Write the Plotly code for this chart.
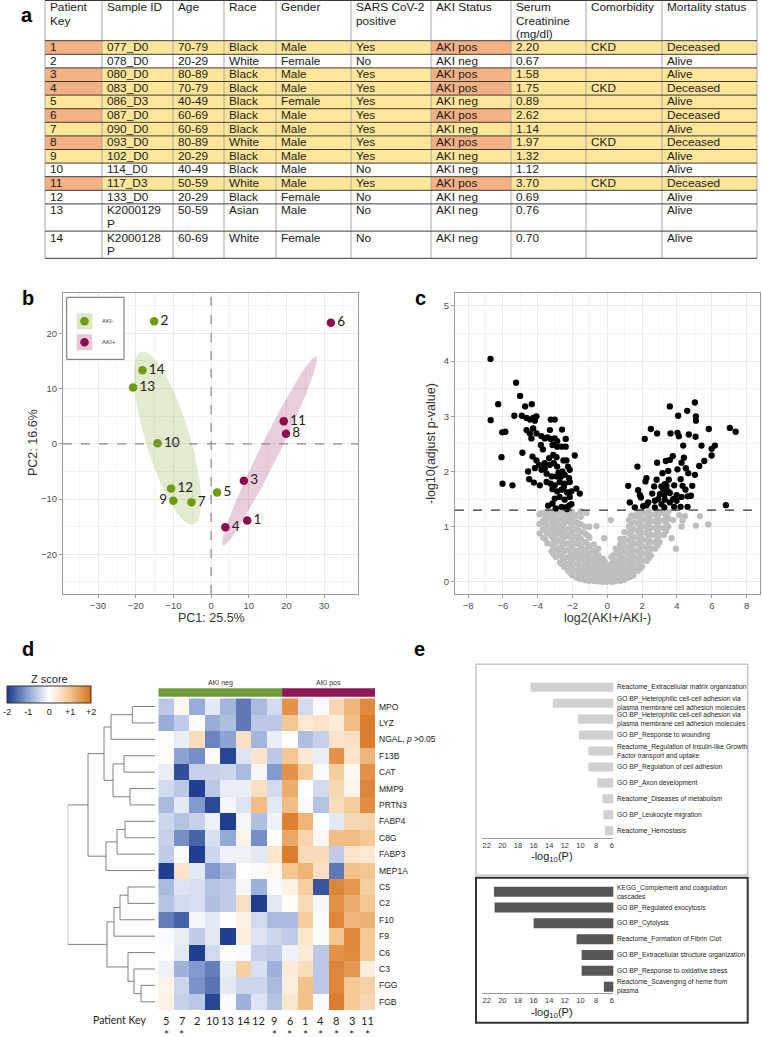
import numpy as np
import plotly.graph_objects as go

W, H = 762, 1037


def PX(x):
    return x / W


def PY(y):
    return 1 - y / H


SANS = "Liberation Sans"
HUM = "Lato"

# ---------------- Panel a : table data ----------------
tbl_header = ["Patient<br>Key", "Sample ID", "Age", "Race", "Gender", "SARS CoV-2<br>positive",
              "AKI Status", "Serum<br>Creatinine<br>(mg/dl)", "Comorbidity", "Mortality status"]
patient_key = [str(i) for i in range(1, 15)]
sample_id = ["077_D0", "078_D0", "080_D0", "083_D0", "086_D3", "087_D0", "090_D0", "093_D0",
             "102_D0", "114_D0", "117_D3", "133_D0", "K2000129<br>P", "K2000128<br>P"]
age = ["70-79", "20-29", "80-89", "70-79", "40-49", "60-69", "60-69", "80-89", "20-29", "40-49",
       "50-59", "20-29", "50-59", "60-69"]
race = ["Black", "White", "Black", "Black", "Black", "Black", "Black", "White", "Black", "Black",
        "White", "Black", "Asian", "White"]
gender = ["Male", "Female", "Male", "Male", "Female", "Male", "Male", "Male", "Male", "Male",
          "Male", "Female", "Male", "Female"]
sars = ["Yes", "No", "Yes", "Yes", "Yes", "Yes", "Yes", "Yes", "Yes", "No", "Yes", "No", "No", "No"]
aki_status = ["AKI pos", "AKI neg", "AKI pos", "AKI pos", "AKI neg", "AKI pos", "AKI neg", "AKI pos",
              "AKI neg", "AKI neg", "AKI pos", "AKI neg", "AKI neg", "AKI neg"]
creatinine = ["2.20", "0.67", "1.58", "1.75", "0.89", "2.62", "1.14", "1.97", "1.32", "1.12",
              "3.70", "0.69", "0.76", "0.70"]
comorbidity = ["CKD", "", "", "CKD", "", "", "", "CKD", "", "", "CKD", "", "", ""]
mortality = ["Deceased", "Alive", "Alive", "Deceased", "Alive", "Deceased", "Alive", "Deceased",
             "Alive", "Alive", "Deceased", "Alive", "Alive", "Alive"]

# ---------------- Panel b : PCA ----------------
pca_key = [str(i) for i in range(1, 15)]
pc1 = [9.6, -15.1, 8.7, 3.8, 1.6, 31.8, -5.2, 19.9, -10.0, -14.2, 19.3, -10.6, -20.7, -18.2]
pc2 = [-13.9, 22.2, -6.7, -15.1, -8.8, 21.9, -10.6, 1.8, -10.3, 0.1, 4.1, -8.1, 10.2, 13.3]

# ---------------- Panel c : volcano ----------------
sig_left_x = [-6.71, -5.24, -5.01, -6.27, -4.72, -4.34, -6.70, -5.34, -4.91, -4.64, -4.45, -4.26, -4.07,
              -4.16, -3.25, -3.02, -6.04, -5.86, -4.64, -4.45, -4.26, -4.07, -4.36, -3.78, -3.59, -3.30,
              -2.60, -3.44, -3.25, -3.02, -2.88, -2.39, -3.82, -3.15, -2.88, -2.63, -2.39, -6.08, -4.88,
              -4.30, -4.07, -4.16, -3.92, -3.34, -2.92, -2.35, -1.87, -3.78, -3.59, -3.30, -3.07, -2.88,
              -2.58, -2.26, -2.16, -3.49, -3.20, -2.92, -2.68, -2.45, -2.20, -4.49, -4.22, -3.88, -3.49,
              -3.25, -3.02, -2.74, -2.45, -2.16, -6.02, -5.45, -1.78, -1.58, -3.15, -2.88, -2.63, -2.31,
              -2.06, -3.02, -2.74, -2.45, -2.16, -3.15, -3.40, -2.96, -2.63, -2.39, -2.20, -2.06, -2.31,
              -4.55, -3.70, -3.10, -2.52, -2.80, -3.60, -2.50]
sig_left_y = [4.04, 3.61, 3.37, 3.22, 3.18, 3.22, 2.93, 3.01, 3.01, 2.97, 2.94, 2.97, 3.00,
              2.92, 2.94, 2.94, 2.71, 2.72, 2.75, 2.69, 2.78, 2.69, 2.60, 2.64, 2.60, 2.75,
              2.76, 2.62, 2.59, 2.60, 2.55, 2.59, 2.48, 2.48, 2.45, 2.45, 2.45, 2.26, 2.34,
              2.27, 2.20, 2.06, 2.12, 2.24, 2.26, 2.20, 2.29, 2.03, 2.06, 2.12, 2.15, 2.09,
              2.00, 2.09, 2.03, 1.96, 1.91, 1.91, 1.90, 1.94, 1.88, 1.86, 1.80, 1.75, 1.81,
              1.78, 1.75, 1.81, 1.78, 1.81, 1.78, 1.75, 1.69, 1.60, 1.68, 1.64, 1.67, 1.62,
              1.64, 1.51, 1.54, 1.49, 1.54, 1.42, 1.38, 1.33, 1.36, 1.35, 1.38, 1.41, 1.32,
              2.00, 2.40, 2.30, 2.20, 1.98, 2.15, 1.72]
sig_right_x = [5.03, 3.59, 4.59, 4.07, 5.09, 5.09, 2.50, 2.86, 3.63, 4.03, 4.11, 4.68, 5.07, 5.83,
               7.04, 7.37, 2.15, 4.36, 5.41, 6.18, 5.99, 5.99, 4.40, 3.76, 3.59, 3.36, 2.86, 5.57,
               5.28, 4.26, 1.73, 4.03, 4.51, 3.50, 3.17, 4.65, 5.03, 2.25, 2.19, 2.83, 3.53, 3.30,
               4.21, 1.20, 2.69, 3.11, 3.40, 3.84, 4.32, 4.88, 1.77, 3.21, 3.46, 4.49, 1.87, 2.58,
               3.02, 3.27, 3.59, 3.98, 4.26, 4.61, 4.80, 1.93, 2.92, 3.30, 3.78, 1.29, 2.35, 2.73,
               3.11, 3.59, 3.98, 1.58, 2.06, 2.25, 2.73, 3.27, 3.84, 4.21, 4.61, 6.81]
sig_right_y = [3.25, 3.18, 3.10, 3.01, 3.00, 2.92, 2.77, 2.69, 2.69, 2.70, 2.64, 2.67, 2.63, 2.77,
               2.79, 2.72, 2.59, 2.47, 2.47, 2.47, 2.41, 2.29, 2.25, 2.28, 2.21, 2.19, 2.16, 2.19,
               2.10, 2.16, 2.09, 2.04, 2.06, 2.01, 1.97, 1.97, 1.94, 1.88, 1.82, 1.85, 1.85, 1.77,
               1.86, 1.74, 1.73, 1.73, 1.74, 1.75, 1.74, 1.74, 1.66, 1.68, 1.65, 1.67, 1.57, 1.60,
               1.59, 1.57, 1.61, 1.57, 1.54, 1.55, 1.56, 1.53, 1.50, 1.49, 1.50, 1.44, 1.44, 1.47,
               1.41, 1.44, 1.47, 1.35, 1.37, 1.39, 1.35, 1.35, 1.36, 1.36, 1.36, 1.39]
# non-significant genes, read column by column (x: list of y)
ns_columns = [
    (-3.90, [0.88, 1.05, 1.22]),
    (-3.70, [0.80, 0.95, 1.10, 1.25]),
    (-3.58, [0.78, 0.93, 1.06, 1.20]),
    (-3.45, [0.70, 0.88, 1.00, 1.15, 1.27]),
    (-3.20, [0.55, 0.68, 0.82, 0.95, 1.08, 1.20]),
    (-3.08, [0.50, 0.63, 0.77, 0.90, 1.03, 1.16, 1.28]),
    (-2.95, [0.45, 0.58, 0.72, 0.85, 0.98, 1.10, 1.24]),
    (-2.72, [0.35, 0.50, 0.62, 0.76, 0.90, 1.02, 1.15, 1.27]),
    (-2.60, [0.32, 0.45, 0.58, 0.72, 0.86, 0.99, 1.12, 1.25]),
    (-2.48, [0.27, 0.40, 0.55, 0.68, 0.80, 0.93, 1.06, 1.18, 1.28]),
    (-2.25, [0.20, 0.32, 0.45, 0.58, 0.70, 0.84, 0.96, 1.10, 1.22]),
    (-2.13, [0.16, 0.30, 0.43, 0.56, 0.69, 0.82, 0.94, 1.08, 1.20]),
    (-2.02, [0.12, 0.25, 0.38, 0.50, 0.63, 0.76, 0.88, 1.02, 1.15, 1.27]),
    (-1.78, [0.08, 0.20, 0.32, 0.45, 0.56, 0.70, 0.82, 0.95, 1.08, 1.20]),
    (-1.65, [0.07, 0.18, 0.30, 0.42, 0.55, 0.68, 0.80, 0.93, 1.06, 1.22]),
    (-1.52, [0.05, 0.15, 0.27, 0.40, 0.52, 0.64, 0.78, 0.90, 1.04, 1.18, 1.28]),
    (-1.28, [0.03, 0.12, 0.22, 0.34, 0.46, 0.58, 0.72, 0.88, 1.00]),
    (-1.15, [0.03, 0.11, 0.20, 0.31, 0.43, 0.55, 0.68, 0.84]),
    (-1.03, [0.02, 0.10, 0.18, 0.28, 0.40, 0.52, 0.64, 0.80, 1.00]),
    (-0.78, [0.02, 0.08, 0.15, 0.24, 0.34, 0.45, 0.56, 0.68]),
    (-0.65, [0.02, 0.07, 0.13, 0.21, 0.30, 0.40, 0.52]),
    (-0.52, [0.01, 0.06, 0.12, 0.20, 0.28, 0.38, 0.48, 0.60]),
    (-0.27, [0.00, 0.05, 0.10, 0.16, 0.24, 0.32, 0.42]),
    (-0.15, [0.01, 0.05, 0.11, 0.18, 0.26, 0.36]),
    (-0.02, [0.00, 0.04, 0.09, 0.14, 0.20, 0.28]),
    (0.23, [0.00, 0.05, 0.10, 0.16, 0.24, 0.33, 0.45]),
    (0.36, [0.01, 0.06, 0.12, 0.19, 0.27, 0.36, 0.48]),
    (0.48, [0.01, 0.06, 0.12, 0.20, 0.28, 0.38, 0.50, 0.60]),
    (0.74, [0.02, 0.08, 0.15, 0.24, 0.34, 0.45, 0.56, 0.68, 0.78]),
    (0.86, [0.03, 0.10, 0.18, 0.27, 0.38, 0.50, 0.62, 0.74]),
    (0.98, [0.04, 0.12, 0.20, 0.30, 0.42, 0.54, 0.66, 0.78, 0.90]),
    (1.24, [0.08, 0.16, 0.26, 0.38, 0.50, 0.62, 0.75, 0.88, 1.00, 1.12]),
    (1.37, [0.10, 0.19, 0.30, 0.42, 0.54, 0.66, 0.80, 0.93, 1.06, 1.20]),
    (1.50, [0.12, 0.22, 0.34, 0.46, 0.58, 0.70, 0.82, 0.95, 1.08, 1.20]),
    (1.75, [0.20, 0.30, 0.42, 0.55, 0.68, 0.80, 0.92, 1.05, 1.18, 1.28]),
    (1.88, [0.24, 0.36, 0.48, 0.60, 0.72, 0.85, 0.97, 1.10, 1.22]),
    (2.00, [0.28, 0.40, 0.52, 0.65, 0.78, 0.90, 1.02, 1.15, 1.27]),
    (2.25, [0.38, 0.50, 0.62, 0.75, 0.88, 1.00, 1.12, 1.24]),
    (2.38, [0.43, 0.56, 0.68, 0.80, 0.93, 1.05, 1.18, 1.28]),
    (2.50, [0.48, 0.60, 0.72, 0.85, 0.98, 1.10, 1.22]),
    (2.75, [0.60, 0.72, 0.85, 0.98, 1.10, 1.22]),
    (2.88, [0.66, 0.78, 0.91, 1.04, 1.17, 1.28]),
    (3.00, [0.72, 0.85, 0.98, 1.10, 1.24]),
    (3.25, [0.85, 0.98, 1.12, 1.25]),
    (3.38, [0.92, 1.06, 1.20]),
    (3.50, [1.00, 1.15, 1.27]),
]
ns_extra_x = [-0.62, -0.18, 0.20, 3.69, 3.94, 4.13, 4.26, 4.32, 4.45, 5.09, 5.32, 5.80, 3.78, -3.85, -1.20]
ns_extra_y = [1.01, 0.79, 1.12, 0.79, 0.60, 1.21, 1.00, 1.11, 1.19, 1.02, 1.19, 1.04, 1.12, 1.24, 1.25]
p_threshold = 1.30

# ---------------- Panel d : heatmap ----------------
genes = ["MPO", "LYZ", "NGAL, <i>p</i> >0.05", "F13B", "CAT", "MMP9", "PRTN3", "FABP4", "C8G", "FABP3",
         "MEP1A", "C5", "C2", "F10", "F9", "C6", "C3", "FGG", "FGB"]
hm_patients = ["5", "7", "2", "10", "13", "14", "12", "9", "6", "1", "4", "8", "3", "11"]
hm_group = ["AKI neg"] * 8 + ["AKI pos"] * 6
hm_star = [True, True, False, False, False, False, False, True, True, True, True, True, True, True]
zscore = [
    [-0.60, 0.15, -0.90, -0.25, -0.80, -1.40, -0.75, -0.40, 1.60, -0.40, -0.05, 0.70, 1.20, 1.70],
    [-0.90, -0.55, 0.05, -0.90, -0.70, -1.40, -0.60, -0.60, 1.00, 0.40, 0.50, 0.35, 1.10, 1.85],
    [0.05, -0.20, 0.60, -1.30, -1.00, 0.55, -0.80, -0.20, 0.00, -0.70, -0.50, 0.50, 0.55, 1.85],
    [0.05, -1.00, -1.20, 0.10, -1.90, -0.30, 0.50, -0.60, 1.00, 0.40, -0.20, 1.60, 0.50, 1.20],
    [-0.20, -1.80, -0.50, -0.50, -0.45, -0.75, -0.10, -1.10, 1.60, 0.90, -0.05, 0.90, 0.15, 1.60],
    [-0.40, -0.60, -1.95, -0.60, -0.20, -0.20, 0.55, -0.40, 1.30, 0.00, -0.40, 0.70, 0.20, 1.75],
    [-0.75, -0.25, -1.10, -1.85, -0.10, -0.30, 1.10, -0.25, 1.10, -0.05, -0.65, 0.60, 0.90, 1.65],
    [-0.45, -0.65, -0.50, -0.15, -1.95, -0.10, -0.70, -0.15, 1.80, 1.20, 0.00, -0.25, 0.70, 0.75],
    [-0.50, -1.20, -1.60, -0.35, -0.95, 0.20, -1.20, 0.02, 1.35, 0.75, 0.15, 1.10, 1.10, 0.95],
    [-0.55, -0.05, -1.95, -0.45, -0.15, -0.15, -0.25, 0.45, 1.85, 0.65, 0.65, -0.55, 0.50, 0.40],
    [-1.95, 0.50, -0.25, -1.10, -0.80, 0.02, 0.10, 0.15, 1.00, 1.20, 0.55, -1.40, 1.05, 1.00],
    [-0.75, -0.30, -0.35, -0.65, -0.55, -0.10, -0.85, -0.05, 0.25, 0.85, -1.75, 1.75, 1.55, 0.85],
    [-0.65, -0.40, -0.35, -0.70, -0.55, 0.55, -1.95, -0.25, 0.05, 0.65, -0.10, 1.60, 1.30, 1.00],
    [-1.35, -1.60, -0.10, -0.25, 0.02, 0.25, -0.40, -0.75, -0.75, 0.90, -0.05, 1.75, 1.20, 1.25],
    [-0.05, -0.20, -0.55, -0.25, -1.95, 0.30, -0.30, -0.45, -0.55, 0.45, 0.05, 1.00, 1.75, 0.95],
    [0.03, -0.25, -1.95, -0.40, 0.02, -0.05, -0.50, -0.55, -0.15, 0.35, -0.60, 1.60, 1.70, 0.95],
    [-0.15, -0.85, -1.10, -1.35, -0.20, 0.85, -0.35, -0.85, 0.35, 0.60, -0.60, 1.75, 1.55, 0.30],
    [0.20, -0.45, -1.15, -1.45, -0.25, -0.45, -0.45, -0.75, 0.30, 1.05, -0.60, 1.75, 0.95, 0.80],
    [0.25, -0.50, -0.60, -1.90, -0.05, -0.85, -0.30, -0.65, 0.45, 1.05, -0.05, 1.85, 0.95, 0.70],
]
# row dendrogram: (child a, child b, merge distance); leaves 0..18, merged nodes 19..
dendro_merges = [(0, 1, 22.7), (19, 2, 44), (3, 4, 31), (5, 6, 25), (21, 22, 42), (20, 23, 51),
                 (7, 8, 30), (25, 9, 38), (26, 10, 49), (24, 27, 67), (11, 12, 27), (29, 13, 35),
                 (30, 14, 41), (17, 18, 14), (16, 32, 21), (15, 33, 27), (31, 34, 48), (28, 35, 87.3)]

# ---------------- Panel e : enrichment ----------------
up_terms = ["Reactome_Extracellular matrix organization",
            "GO BP_Heterophilic cell-cell adhesion via<br>plasma membrane cell adhesion molecules",
            "GO BP_Heterophilic cell-cell adhesion via<br>plasma membrane cell adhesion molecules",
            "GO BP_Response to wounding",
            "Reactome_Regulation of Insulin-like Growth<br>Factor transport and uptake",
            "GO BP_Regulation of cell adhesion",
            "GO BP_Axon development",
            "Reactome_Diseases of metabolism",
            "GO BP_Leukocyte migration",
            "Reactome_Hemostasis"]
up_logp = [16.4, 13.55, 10.35, 10.2, 9.0, 9.0, 7.85, 7.2, 7.07, 6.86]
down_terms = ["KEGG_Complement and coagulation<br>cascades",
              "GO BP_Regulated exocytosis",
              "GO BP_Cytolysis",
              "Reactome_Formation of Fibrin Clot",
              "GO BP_Extracellular structure organization",
              "GO BP_Response to oxidative stress",
              "Reactome_Scavenging of heme from<br>plasma"]
down_logp = [21.07, 21.0, 16.0, 10.5, 9.85, 9.85, 7.0]

# =====================================================================
fig = go.Figure()
shapes = []
annotations = []


def label(x, y, text, size, color="#222", family=SANS, xanchor="center", yanchor="middle",
          bold=False, textangle=0, align="center"):
    annotations.append(dict(x=PX(x), y=PY(y), xref="paper", yref="paper", text=text,
                            showarrow=False, xanchor=xanchor, yanchor=yanchor, textangle=textangle,
                            align=align, borderpad=0,
                            font=dict(size=size, color=color, family=family,
                                      weight="bold" if bold else "normal")))


# ---------------- table ----------------
YEL, SAL = "#FFE699", "#F4B183"
columns = [patient_key, sample_id, age, race, gender, sars, aki_status, creatinine, comorbidity, mortality]
col_w = [57, 71, 51, 52, 75, 80, 80, 75, 76, 95]
tl, tt, lh = 45, 0.5, 13.6
col_x = [tl]
for w in col_w:
    col_x.append(col_x[-1] + w)


def nlines(s):
    return s.count("<br>") + 1


head_h = max(nlines(h) for h in tbl_header) * lh - 0.6
row_h = [max(nlines(c[r]) for c in columns) * lh for r in range(len(patient_key))]
row_y = [tt, tt + head_h]
for h in row_h:
    row_y.append(row_y[-1] + h)

for r in range(len(patient_key)):
    for c in range(len(columns)):
        fill = None
        if sars[r] == "Yes":
            fill = YEL
        if c in (0, 6) and aki_status[r] == "AKI pos":
            fill = SAL
        if fill:
            shapes.append(dict(type="rect", xref="paper", yref="paper", x0=PX(col_x[c]), x1=PX(col_x[c + 1]),
                               y0=PY(row_y[r + 1]), y1=PY(row_y[r + 2]), fillcolor=fill,
                               line=dict(width=0), layer="below"))
for xv in col_x:
    shapes.append(dict(type="line", xref="paper", yref="paper", x0=PX(xv), x1=PX(xv),
                       y0=PY(row_y[0]), y1=PY(row_y[-1]), line=dict(color="#A6A6A6", width=1)))
for yv in row_y:
    shapes.append(dict(type="line", xref="paper", yref="paper", x0=PX(col_x[0]), x1=PX(col_x[-1]),
                       y0=PY(yv), y1=PY(yv), line=dict(color="#3A3A3A", width=1)))


def cell_text(text, c, top):
    for i, part in enumerate(text.split("<br>")):
        if part:
            label(col_x[c] + 4, top + 6.4 + i * lh, part, 11.8, "#1A1A1A", SANS, xanchor="left")


for c, h in enumerate(tbl_header):
    cell_text(h, c, row_y[0])
for r in range(len(patient_key)):
    for c in range(len(columns)):
        cell_text(columns[c][r], c, row_y[r + 1])

# ---------------- panel b : PCA ----------------
GREEN, PURPLE = "#6E9B12", "#8B0A50"
pos_idx = [i for i in range(len(pca_key)) if aki_status[i] == "AKI pos"]
neg_idx = [i for i in range(len(pca_key)) if aki_status[i] == "AKI neg"]


def conf_ellipse(xs, ys, k=1.24, n=120):
    xs, ys = np.asarray(xs), np.asarray(ys)
    vals, vecs = np.linalg.eigh(np.cov(xs, ys))
    t = np.linspace(0, 2 * np.pi, n)
    circ = np.vstack([np.cos(t), np.sin(t)])
    pts = vecs @ (np.sqrt(vals)[:, None] * circ) * k
    return xs.mean() + pts[0], ys.mean() + pts[1]


for idx, fillc in [(neg_idx, "rgba(110,155,18,0.20)"), (pos_idx, "rgba(139,10,80,0.20)")]:
    ex, ey = conf_ellipse([pc1[i] for i in idx], [pc2[i] for i in idx])
    fig.add_trace(go.Scatter(x=ex, y=ey, mode="lines", fill="toself", fillcolor=fillc,
                             line=dict(width=0), hoverinfo="skip", showlegend=False, xaxis="x", yaxis="y"))
for idx, col in [(neg_idx, GREEN), (pos_idx, PURPLE)]:
    fig.add_trace(go.Scatter(
        x=[pc1[i] for i in idx], y=[pc2[i] for i in idx], mode="markers+text",
        text=[pca_key[i] for i in idx],
        textposition=["middle left" if pca_key[i] == "9" else "middle right" for i in idx],
        textfont=dict(size=13.5, color="#222", family=HUM),
        marker=dict(size=8.5, color=col), showlegend=False, xaxis="x", yaxis="y", cliponaxis=False))

ax_style = dict(showline=True, mirror=True, linecolor="#9A9A9A", linewidth=1, showgrid=True,
                gridcolor="#EBEBEB", gridwidth=1, zeroline=False, ticks="outside", ticklen=3,
                tickcolor="#9A9A9A", tickfont=dict(size=9.5, color="#4D4D4D", family=SANS))

fig.update_layout(
    xaxis=dict(domain=[PX(63), PX(358)], range=[-39.3, 39], dtick=10, tick0=0, anchor="y",
               minor=dict(showgrid=True, gridcolor="#F4F4F4", dtick=5), **ax_style),
    yaxis=dict(domain=[PY(594), PY(293)], range=[-27.2, 27.3], dtick=10, tick0=0, anchor="x",
               minor=dict(showgrid=True, gridcolor="#F4F4F4", dtick=5), **ax_style),
)
shapes.append(dict(type="line", xref="x", yref="y domain", x0=0, x1=0, y0=0, y1=1,
                   line=dict(color="#8A8A8A", width=1.2, dash="dash")))
shapes.append(dict(type="line", xref="x domain", yref="y", x0=0, x1=1, y0=0, y1=0,
                   line=dict(color="#8A8A8A", width=1.2, dash="dash")))
# legend
shapes.append(dict(type="rect", xref="paper", yref="paper", x0=PX(66.7), x1=PX(124), y0=PY(359.3), y1=PY(297.3),
                   line=dict(color="#6A6A6A", width=1), fillcolor="white"))
for yc, col, keyfill, txt in [(321.3, GREEN, "#DFE8C6", "AKI-"), (342.2, PURPLE, "#E6C9D7", "AKI+")]:
    shapes.append(dict(type="rect", xref="paper", yref="paper", x0=PX(76.7), x1=PX(92.3), y0=PY(yc + 8),
                       y1=PY(yc - 8), line=dict(width=0), fillcolor=keyfill))
    shapes.append(dict(type="circle", xref="paper", yref="paper", x0=PX(80.2), x1=PX(88.8), y0=PY(yc + 4.3),
                       y1=PY(yc - 4.3), line=dict(width=0), fillcolor=col))
    label(101, yc, txt, 6, "#333", SANS, xanchor="left")
label(211, 618, "PC1: 25.5%", 12.5, "#333", SANS)
label(33, 443, "PC2: 16.6%", 12.5, "#333", SANS, textangle=-90)

# ---------------- panel c : volcano ----------------
ns_x, ns_y = [], []
for xv, ys in ns_columns:
    for yv in ys:
        ns_x.append(xv)
        ns_y.append(yv)
ns_x += ns_extra_x
ns_y += ns_extra_y
fig.add_trace(go.Scatter(x=ns_x, y=ns_y, mode="markers", marker=dict(size=6.3, color="#BEBEBE"),
                         showlegend=False, xaxis="x2", yaxis="y2", hoverinfo="skip"))
fig.add_trace(go.Scatter(x=sig_left_x + sig_right_x, y=sig_left_y + sig_right_y, mode="markers",
                         marker=dict(size=6.3, color="#000000"), showlegend=False, xaxis="x2", yaxis="y2"))
fig.update_layout(
    xaxis2=dict(domain=[PX(455), PX(760)], range=[-8.75, 8.77], dtick=2, tick0=0, anchor="y2",
                minor=dict(showgrid=True, gridcolor="#F4F4F4", dtick=1), **ax_style),
    yaxis2=dict(domain=[PY(594), PY(292.7)], range=[-0.22, 5.24], dtick=1, tick0=0, anchor="x2",
                minor=dict(showgrid=True, gridcolor="#F4F4F4", dtick=0.5), **ax_style),
)
shapes.append(dict(type="line", xref="x2 domain", yref="y2", x0=0, x1=1, y0=p_threshold, y1=p_threshold,
                   line=dict(color="#333", width=1.3, dash="dash")))
label(607, 618, "log2(AKI+/AKI-)", 12.5, "#333", SANS)
label(431, 443, "-log10(adjust p-value)", 12.5, "#333", SANS, textangle=-90)

# ---------------- panel d : heatmap ----------------
fig.add_trace(go.Heatmap(
    z=zscore, x=list(range(len(hm_patients))), y=list(range(len(genes))), xaxis="x3", yaxis="y3",
    zmin=-2, zmax=2,
    colorscale=[[0, "#1B3A8C"], [0.25, "#8CA3D3"], [0.5, "#FFFFFF"], [0.75, "#F4C690"], [1, "#D6701A"]],
    colorbar=dict(orientation="h", x=PX(49.2), xanchor="center", y=PY(686), yanchor="top",
                  len=(91 - 7.3) / W, lenmode="fraction", thickness=17, thicknessmode="pixels",
                  outlinewidth=1, outlinecolor="#333", xpad=0, ypad=0, ticks="",
                  tickvals=[-2, -1, 0, 1, 2], ticktext=["-2", "-1", "0", "+1", "+2"],
                  tickfont=dict(size=9, color="#222", family=SANS)),
    showscale=True, hoverinfo="skip"))
fig.update_layout(
    xaxis3=dict(domain=[PX(158.3), PX(375)], range=[-0.5, len(hm_patients) - 0.5], anchor="y3",
                showticklabels=False, ticks="", showgrid=False, zeroline=False, showline=False),
    yaxis3=dict(domain=[PY(1010), PY(698.3)], range=[len(genes) - 0.5, -0.5], anchor="x3",
                showticklabels=False, ticks="", showgrid=False, zeroline=False, showline=False),
)
for i, g in enumerate(genes):
    annotations.append(dict(x=PX(378), y=i, xref="paper", yref="y3", text=g, showarrow=False, xanchor="left",
                            yanchor="middle", borderpad=0, font=dict(size=8.5, color="#222", family=SANS)))
for j, (p, s) in enumerate(zip(hm_patients, hm_star)):
    annotations.append(dict(x=j, y=PY(1020), xref="x3", yref="paper", text=p, showarrow=False,
                            yanchor="middle", borderpad=0, font=dict(size=11, color="#222", family=HUM)))
    if s:
        annotations.append(dict(x=j, y=PY(1034), xref="x3", yref="paper", text="*", showarrow=False,
                                yanchor="middle", borderpad=0, font=dict(size=12, color="#222", family=HUM)))
# group bar
for grp, col in [("AKI neg", "#6F9A3A"), ("AKI pos", "#8B1A55")]:
    cols = [i for i, g in enumerate(hm_group) if g == grp]
    shapes.append(dict(type="rect", xref="x3", yref="paper", x0=min(cols) - 0.5, x1=max(cols) + 0.5,
                       y0=PY(696.7), y1=PY(688.3), fillcolor=col, line=dict(width=0)))
    annotations.append(dict(x=(min(cols) + max(cols)) / 2, y=PY(682.5), xref="x3", yref="paper", text=grp,
                            showarrow=False, borderpad=0, font=dict(size=7, color="#333", family=SANS)))
label(49.5, 679, "Z score", 11, "#222", SANS)
label(120, 1020, "Patient Key", 10.5, "#222", HUM)

# dendrogram
node_pos = {i: float(i) for i in range(len(genes))}
node_h = {i: 0.0 for i in range(len(genes))}
dx, dy = [], []
for k, (a, b, d) in enumerate(dendro_merges):
    nid = len(genes) + k
    dx += [node_h[a], d, d, node_h[b], None]
    dy += [node_pos[a], node_pos[a], node_pos[b], node_pos[b], None]
    node_pos[nid] = (node_pos[a] + node_pos[b]) / 2
    node_h[nid] = d
root_h = max(m[2] for m in dendro_merges)
fig.add_trace(go.Scatter(x=dx, y=dy, mode="lines", line=dict(color="#7F7F7F", width=1), xaxis="x4",
                         yaxis="y3", showlegend=False, hoverinfo="skip"))
fig.update_layout(xaxis4=dict(domain=[PX(155 - root_h), PX(155)], range=[root_h, 0], anchor="y3",
                              visible=False))

# ---------------- panel e : enrichment bars ----------------
fig.add_trace(go.Bar(x=up_logp, y=list(range(len(up_terms))), orientation="h", marker=dict(color="#D0D0D0"),
                     width=0.57, xaxis="x6", yaxis="y6", showlegend=False, hoverinfo="skip"))
fig.add_trace(go.Bar(x=down_logp, y=list(range(len(down_terms))), orientation="h",
                     marker=dict(color="#565656"), width=0.63, xaxis="x7", yaxis="y7", showlegend=False,
                     hoverinfo="skip"))
ex_style = dict(range=[22.64, 5.8], dtick=2, tick0=0, showgrid=False, zeroline=False, showline=True,
                linecolor="#9A9A9A", linewidth=1, ticks="", tickfont=dict(size=7.5, color="#333", family=SANS))
ey_style = dict(showticklabels=False, ticks="", showgrid=False, zeroline=False, showline=False)
fig.update_layout(
    xaxis6=dict(domain=[PX(481.7), PX(613.3)], anchor="y6", **ex_style),
    yaxis6=dict(domain=[PY(837.7), PY(679.3)], range=[len(up_terms) - 1 + 0.44, -0.5], anchor="x6", **ey_style),
    xaxis7=dict(domain=[PX(481.7), PX(613.3)], anchor="y7", **ex_style),
    yaxis7=dict(domain=[PY(993.3), PY(883.8)], range=[len(down_terms) - 1 + 0.42, -0.5], anchor="x7", **ey_style),
)
for terms, yref in [(up_terms, "y6"), (down_terms, "y7")]:
    for i, t in enumerate(terms):
        annotations.append(dict(x=PX(615.5), y=i, xref="paper", yref=yref, text=t, showarrow=False,
                                xanchor="left", yanchor="middle", align="left", borderpad=0,
                                font=dict(size=6.7, color="#222", family=SANS)))
shapes.append(dict(type="rect", xref="paper", yref="paper", x0=PX(476), x1=PX(747.7), y0=PY(875), y1=PY(664.3),
                   line=dict(color="#C8C8C8", width=1.5)))
shapes.append(dict(type="rect", xref="paper", yref="paper", x0=PX(476), x1=PX(747.7), y0=PY(1022.7),
                   y1=PY(877.7), line=dict(color="#333333", width=2)))
label(551.7, 857, "-log<sub>10</sub>(P)", 11, "#222", SANS)
label(551.7, 1012.5, "-log<sub>10</sub>(P)", 11, "#222", SANS)

# panel letters
for ch, x, y in [("a", 27, 15), ("b", 28, 298), ("c", 420, 298), ("d", 28, 649), ("e", 419, 649)]:
    label(x, y, ch, 20, "#000", SANS, bold=True)

fig.update_layout(width=W, height=H, margin=dict(l=0, r=0, t=0, b=0), template="none",
                  paper_bgcolor="white", plot_bgcolor="white", showlegend=False,
                  shapes=shapes, annotations=annotations, font=dict(family=SANS))
fig.write_html("out.html", config={"displayModeBar": False},
               post_script="document.body.style.margin='0px';document.body.style.overflow='hidden';")
